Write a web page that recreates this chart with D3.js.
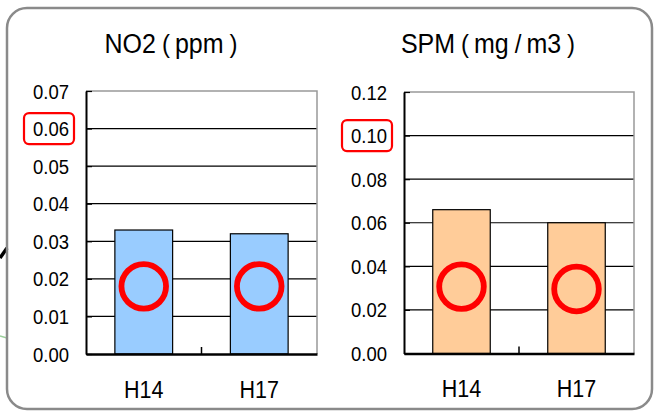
<!DOCTYPE html>
<html>
<head>
<meta charset="utf-8">
<script src="https://cdn.jsdelivr.net/npm/d3@7"></script>
<style>
  html, body { margin: 0; padding: 0; background: #fff; }
  svg { display: block; }
  text { font-family: "Liberation Sans", Arial, "Noto Sans CJK JP", sans-serif; fill: #000; }
</style>
</head>
<body>
<svg id="chart" width="654" height="412"></svg>
<script>
// ---- data ----
const categories = ["H14", "H17"];

const no2Values = [0.033, 0.032];
const no2Ticks = [0.00, 0.01, 0.02, 0.03, 0.04, 0.05, 0.06, 0.07];
const no2TickLabels = ["0.00", "0.01", "0.02", "0.03", "0.04", "0.05", "0.06", "0.07"];
const no2Marks = [0.018, 0.018];      // red circle annotation levels
const no2Highlight = 0.06;            // boxed tick label

const spmValues = [0.066, 0.060];
const spmTicks = [0.00, 0.02, 0.04, 0.06, 0.08, 0.10, 0.12];
const spmTickLabels = ["0.00", "0.02", "0.04", "0.06", "0.08", "0.10", "0.12"];
const spmMarks = [0.0307, 0.0296];
const spmHighlight = 0.10;

const titles = [
  ["NO2", "(", "ppm", ")"],
  ["SPM", "(", "mg", "/", "m3", ")"]
];

// ---- drawing ----
const svg = d3.select("#chart");

// fragments of neighbouring figure at the left edge
svg.append("line").attr("x1", 0).attr("y1", 258).attr("x2", 7).attr("y2", 248)
  .attr("stroke", "#000").attr("stroke-width", 3.5);
svg.append("line").attr("x1", 0).attr("y1", 336).attr("x2", 7).attr("y2", 338)
  .attr("stroke", "#9cd09c").attr("stroke-width", 1.5);

// outer rounded frame
svg.append("rect").attr("x", 7).attr("y", 8).attr("width", 645).attr("height", 401)
  .attr("rx", 20).attr("fill", "none").attr("stroke", "#8a8a8a").attr("stroke-width", 2.5);

function panel(opt) {
  const g = svg.append("g");
  const x = d3.scaleBand().domain(categories).range([opt.left, opt.right])
    .paddingInner(0.5).paddingOuter(0.25);
  const y = d3.scaleLinear().domain([0, opt.max]).range([opt.bottom, opt.top]);

  // gridlines
  g.append("g").selectAll("line").data(opt.ticks.filter(t => t > 0 && t < opt.max)).join("line")
    .attr("x1", opt.left).attr("x2", opt.right)
    .attr("y1", d => y(d)).attr("y2", d => y(d))
    .attr("stroke", "#000").attr("stroke-width", 1.2);

  // top and right borders (grey)
  g.append("path")
    .attr("d", `M${opt.left},${y(opt.max)}H${opt.right}V${opt.bottom}`)
    .attr("fill", "none").attr("stroke", "#999").attr("stroke-width", 1.5);

  // bars
  g.append("g").selectAll("rect").data(opt.values).join("rect")
    .attr("x", (d, i) => x(categories[i]))
    .attr("width", x.bandwidth())
    .attr("y", d => y(d))
    .attr("height", d => y(0) - y(d))
    .attr("fill", opt.color).attr("stroke", "#000").attr("stroke-width", 1.2);

  // y axis
  const yAxis = d3.axisLeft(y).tickValues(opt.ticks)
    .tickFormat((d, i) => opt.labels[i]).tickSizeInner(-6).tickSizeOuter(0).tickPadding(17);
  const ya = g.append("g").attr("transform", `translate(${opt.left},0)`).call(yAxis);
  ya.select(".domain").attr("stroke", "#000").attr("stroke-width", 2);
  ya.selectAll(".tick line").attr("stroke", "#000").attr("stroke-width", 1.2);
  ya.selectAll(".tick text").attr("font-size", 18.5).attr("dy", null).attr("x", null)
    .attr("transform", "translate(-17,7) scale(1,1.06)")
    .style("font-family", "'Liberation Sans', Arial, sans-serif");

  // x axis
  const xa = g.append("g").attr("transform", `translate(0,${opt.bottom})`)
    .call(d3.axisBottom(x).tickSize(0).tickPadding(28));
  xa.select(".domain").attr("stroke", "#000").attr("stroke-width", 2.5);
  xa.selectAll(".tick text").attr("font-size", 21.5).attr("y", null).attr("dy", null)
    .attr("transform", "translate(0,43.5) scale(1,1.14)")
    .style("font-family", "'Liberation Sans', Arial, sans-serif");
  // category separator tick (inside)
  const sep = (x(categories[0]) + x.bandwidth() + x(categories[1])) / 2;
  g.append("line").attr("x1", sep).attr("x2", sep)
    .attr("y1", opt.bottom).attr("y2", opt.bottom - 7)
    .attr("stroke", "#000").attr("stroke-width", 1.5);

  // red circle annotations
  g.append("g").selectAll("circle").data(opt.marks).join("circle")
    .attr("cx", (d, i) => x(categories[i]) + x.bandwidth() / 2)
    .attr("cy", d => y(d))
    .attr("r", 22.3).attr("fill", "none").attr("stroke", "#ff0000").attr("stroke-width", 5.8);

  // highlight box round a tick label
  g.append("rect")
    .attr("x", opt.left - 62).attr("y", y(opt.highlight) - 15.5)
    .attr("width", 50).attr("height", 31).attr("rx", 5)
    .attr("fill", "none").attr("stroke", "#ff0000").attr("stroke-width", 2.2);

  // title
  const t = g.append("text")
    .attr("transform", `translate(${opt.titleX},53) scale(1,1.08)`)
    .attr("text-anchor", "middle").attr("font-size", 25);
  opt.title.forEach((s, i) => {
    const isSym = s === "(" || s === ")" || s === "/";
    t.append("tspan").text(s)
      .attr("dx", i === 0 ? 0 : (isSym ? 6 : 5))
      .attr("font-weight", isSym ? 300 : null)
      .attr("font-size", isSym ? 24 : null);
  });
}

panel({
  left: 86, right: 317, top: 91, bottom: 354, max: 0.07,
  values: no2Values, ticks: no2Ticks, labels: no2TickLabels,
  marks: no2Marks, highlight: no2Highlight, color: "#99ccff",
  title: titles[0], titleX: 171
});

panel({
  left: 404, right: 634, top: 92, bottom: 353.5, max: 0.12,
  values: spmValues, ticks: spmTicks, labels: spmTickLabels,
  marks: spmMarks, highlight: spmHighlight, color: "#ffcc99",
  title: titles[1], titleX: 488
});
</script>
</body>
</html>
